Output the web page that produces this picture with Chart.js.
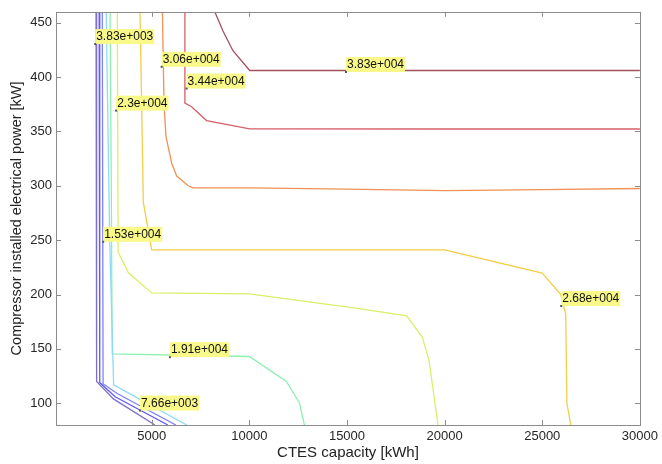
<!DOCTYPE html>
<html>
<head>
<meta charset="utf-8">
<script src="https://cdn.jsdelivr.net/npm/chart.js@4.4.1/dist/chart.umd.min.js"></script>
<style>
  body { margin: 0; background: #fff; }
  #wrap { width: 662px; height: 464px; }
</style>
</head>
<body>
<div id="wrap"><canvas id="plotCanvas" width="662" height="464"></canvas></div>
<script>
const ctx = document.getElementById("plotCanvas");

// contour levels (objective value), lowest to highest
const levels = [3830, 7660, 11490, 15320, 19150, 22980, 26810, 30640, 34470, 38300];

// contour lines: CTES capacity [kWh] vs compressor power [kW]
const l1X = [2150, 2180, 3040, 5170];
const l1Y = [460, 120, 104, 80];
const l2X = [2310, 2340, 3130, 5830];
const l2Y = [460, 119, 106, 80];
const l3X = [2470, 2510, 3230, 6240];
const l3Y = [460, 118, 109, 80];
const l4X = [2670, 2850, 3050, 6800];
const l4Y = [460, 250, 117, 80];
const l5X = [2870, 2930, 2980, 10000, 11900, 12570, 12820];
const l5Y = [460, 300, 145.5, 143, 120, 100, 80];
const l6X = [3240, 3280, 3810, 5000, 10000, 15630, 18060, 18860, 19200, 19660];
const l6Y = [460, 239, 220, 201.5, 200.5, 187, 180.3, 160.6, 139.4, 80];
const l7X = [4400, 4480, 4570, 5000, 20000, 25000, 25950, 26200, 26260, 26460];
const l7Y = [460, 380, 285, 241, 241, 219.7, 200, 182, 100, 80];
const l8X = [5550, 5630, 5730, 6020, 6280, 6870, 7110, 10000, 15000, 20000, 25000, 30000];
const l8Y = [460, 376, 345.5, 321, 309, 300, 298, 298, 297, 295.5, 296.5, 297.5];
const l9X = [6700, 6700, 7040, 7810, 10020, 20000, 30000];
const l9Y = [460, 376, 372.7, 360, 352.4, 352.2, 352.2];
const l10X = [8230, 8650, 9160, 10020, 20000, 30000];
const l10Y = [460, 442.4, 424.2, 406, 406, 406];

const lineXs = [l1X, l2X, l3X, l4X, l5X, l6X, l7X, l8X, l9X, l10X];
const lineYs = [l1Y, l2Y, l3Y, l4Y, l5Y, l6Y, l7Y, l8Y, l9Y, l10Y];

// clabel texts and where they sit
const labelText = ["3.83e+003", "7.66e+003", "1.53e+004", "1.91e+004", "2.3e+004",
                   "2.68e+004", "3.06e+004", "3.44e+004", "3.83e+004"];
const labelX = [2107, 4403, 2515, 5934, 3179, 25969, 5510, 6786, 14949];
const labelY = [430.3, 93.3, 248.5, 142.4, 369.1, 189.4, 409.4, 389.4, 404.6];

const xTicks = [5000, 10000, 15000, 20000, 25000, 30000];
const yTicks = [100, 150, 200, 250, 300, 350, 400, 450];

const lineColors = [
    "rgb(125,112,205)", "rgb(100,92,238)", "rgb(125,130,250)", "rgb(140,218,250)",
    "rgb(140,240,175)", "rgb(215,240,105)", "rgb(242,205,70)", "rgb(240,145,85)",
    "rgb(215,95,105)", "rgb(165,80,95)"
];

const datasets = levels.map((lv, i) => ({
    label: String(lv),
    data: lineXs[i].map((x, k) => ({ x: x, y: lineYs[i][k] })),
    showLine: true,
    borderColor: lineColors[i],
    borderWidth: 1.3,
    pointRadius: 0,
    fill: false,
    tension: 0
}));

const fontFamily = "'Liberation Sans', Arial, sans-serif";

// box round the axes, ticks pointing inwards on all four sides
const framePlugin = {
    id: "frame",
    afterDatasetsDraw(chart) {
        const a = chart.chartArea;
        const c = chart.ctx;
        const xs = chart.scales.x, ys = chart.scales.y;
        c.save();
        c.strokeStyle = "#8c8c8c";
        c.lineWidth = 1;
        c.strokeRect(Math.round(a.left) + 0.5, Math.round(a.top) + 0.5,
                     Math.round(a.right - a.left), Math.round(a.bottom - a.top));
        c.beginPath();
        xTicks.forEach(v => {
            const px = Math.round(xs.getPixelForValue(v)) + 0.5;
            c.moveTo(px, a.bottom); c.lineTo(px, a.bottom - 5);
            c.moveTo(px, a.top); c.lineTo(px, a.top + 5);
        });
        yTicks.forEach(v => {
            const py = Math.round(ys.getPixelForValue(v)) + 0.5;
            c.moveTo(a.left, py); c.lineTo(a.left + 5, py);
            c.moveTo(a.right, py); c.lineTo(a.right - 5, py);
        });
        c.stroke();
        c.restore();
    }
};

// yellow contour labels
const labelPlugin = {
    id: "clabels",
    afterDatasetsDraw(chart) {
        const c = chart.ctx;
        const xs = chart.scales.x, ys = chart.scales.y;
        c.save();
        c.font = "12px " + fontFamily;
        c.textBaseline = "middle";
        labelText.forEach((t, i) => {
            const px = xs.getPixelForValue(labelX[i]);
            const py = ys.getPixelForValue(labelY[i]);
            const w = c.measureText(t).width + 2;
            c.fillStyle = "#f9f98a";
            c.fillRect(px, py - 15, w, 15);
            c.fillStyle = "#111";
            c.fillText(t, px + 1, py - 7);
            c.fillStyle = "#555";
            c.fillRect(px - 1, py - 1, 2, 2);
        });
        c.restore();
    }
};

const chart = new Chart(ctx, {
    type: 'scatter',
    data: { datasets: datasets },
    options: {
        responsive: false,
        animation: false,
        layout: { padding: { top: 7, right: 20, left: 0, bottom: 0 } },
        plugins: {
            legend: { display: false },
            tooltip: { enabled: false }
        },
        scales: {
            x: {
                type: 'linear',
                min: 100,
                max: 30000,
                afterBuildTicks: s => { s.ticks = xTicks.map(v => ({ value: v })); },
                afterFit: s => { s.height = 39; },
                grid: { display: false, drawTicks: false },
                border: { display: false },
                ticks: {
                    padding: 4,
                    color: "#262626",
                    font: { family: fontFamily, size: 13 },
                    callback: v => String(v)
                },
                title: {
                    display: true,
                    text: "CTES capacity [kWh]",
                    color: "#222",
                    font: { family: fontFamily, size: 15 },
                    padding: { top: 0, bottom: 2 }
                }
            },
            y: {
                type: 'linear',
                min: 80,
                max: 460,
                afterBuildTicks: s => { s.ticks = yTicks.map(v => ({ value: v })); },
                afterFit: s => { s.width = 56; },
                grid: { display: false, drawTicks: false },
                border: { display: false },
                ticks: {
                    padding: 4,
                    color: "#262626",
                    font: { family: fontFamily, size: 13 }
                },
                title: {
                    display: true,
                    text: "Compressor installed electrical power [kW]",
                    color: "#222",
                    font: { family: fontFamily, size: 14.5 },
                    padding: { top: 8, bottom: 0 }
                }
            }
        }
    },
    plugins: [framePlugin, labelPlugin]
});
</script>
</body>
</html>
